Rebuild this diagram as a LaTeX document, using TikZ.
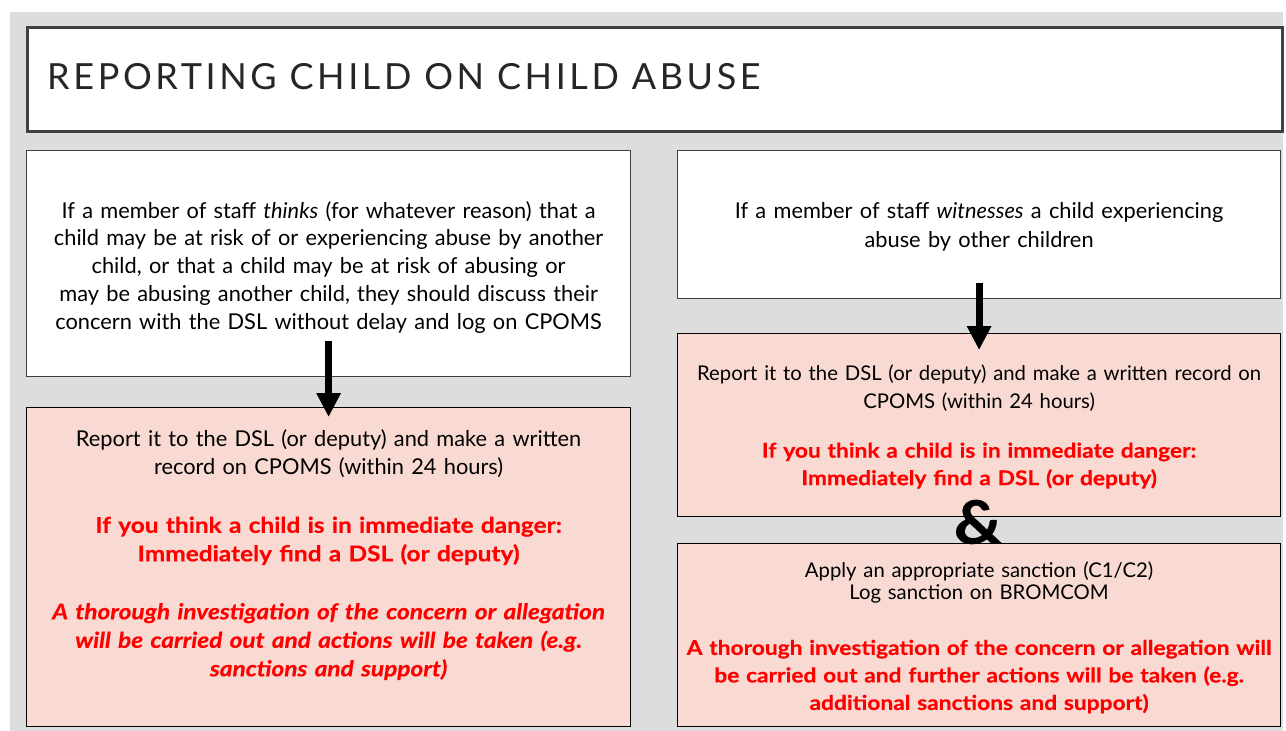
\documentclass[tikz,border=0pt]{standalone}
\usepackage{fontspec}
\setmainfont{Lato}[BoldFeatures={FakeStretch=1.12,FakeBold=0.4},BoldItalicFeatures={FakeStretch=1.12,FakeBold=0.4}]
\newfontfamily\titlefont[LetterSpace=10]{Lato}
\usetikzlibrary{arrows.meta}
\definecolor{bggray}{HTML}{DDDDDD}
\definecolor{pinkfill}{HTML}{F8DAD3}
\definecolor{boxline}{HTML}{404040}
\definecolor{alertred}{HTML}{FF0000}
\tikzset{
  panel/.style={draw=boxline, line width=1.2pt, fill=white, anchor=north west, inner sep=0pt, align=center, minimum width=#1},
  pinkpanel/.style={panel=#1, fill=pinkfill, draw=black},
  bigtext/.style={font=\fontsize{21.8}{28.5}\selectfont, text width=600pt},
  smalltext/.style={font=\fontsize{20.3}{27.5}\selectfont, text width=600pt},
  downarrow/.style={line width=7pt, -{Triangle[width=23pt,length=24pt]}},
}
\newcommand{\alert}[1]{\textcolor{alertred}{\bfseries #1}}
\newcommand{\lift}[1]{\rule{0pt}{#1}}
\begin{document}
\begin{tikzpicture}[x=1pt,y=-1pt]
\useasboundingbox (0,0) rectangle (1286,731);
\fill[white] (0,0) rectangle (1286,731);
\fill[bggray] (10,12) rectangle (1283,731);
% title
\node[panel=1255pt, minimum height=104pt, line width=2.5pt] (title) at (26,26) {};
\node[anchor=west, font=\titlefont\fontsize{36}{40}\selectfont, text=black!85, inner sep=0pt] (titletext) at (47,77) {REPORTING CHILD ON CHILD ABUSE};
% left column
\node[panel=604pt, minimum height=226pt, bigtext, font=\fontsize{21.8}{27.8}\selectfont] (l1) at (26,150) {\lift{24pt}If a member of staff \textit{thinks} (for whatever reason) that a\\ child may be at risk of or experiencing abuse by another\\ child, or that a child may be at risk of abusing or\\ may be abusing another child, they should discuss their\\ concern with the DSL without delay and log on CPOMS};
\node[pinkpanel=604pt, minimum height=319pt, bigtext] (l2) at (26,407) {\lift{15pt}Report it to the DSL (or deputy) and make a written\\ record on CPOMS (within 24 hours)\\[29.5pt]
\alert{If you think a child is in immediate danger:}\\ \alert{Immediately find a DSL (or deputy)}\\[29.5pt]
\alert{\itshape A thorough investigation of the concern or allegation}\\ \alert{\itshape will be carried out and actions will be taken (e.g.}\\ \alert{\itshape sanctions and support)}\\ \mbox{}};
% right column
\node[panel=603pt, minimum height=148pt, bigtext, font=\fontsize{21.8}{29}\selectfont] (r1) at (677,150) {\lift{20pt}If a member of staff \textit{witnesses} a child experiencing\\ abuse by other children};
\node[pinkpanel=603pt, minimum height=183pt, smalltext] (r2) at (677,333) {\lift{19pt}Report it to the DSL (or deputy) and make a written record on\\ CPOMS (within 24 hours)\\[22pt]
\alert{If you think a child is in immediate danger:}\\ \alert{Immediately find a DSL (or deputy)}};
\node[pinkpanel=603pt, minimum height=183pt, smalltext] (r3) at (677,543) {\lift{21pt}Apply an appropriate sanction (C1/C2)\\[-6pt] Log sanction on BROMCOM\\[28pt]
\alert{A thorough investigation of the concern or allegation will}\\ \alert{be carried out and further actions will be taken (e.g.}\\ \alert{additional sanctions and support)}};
\node[font=\bfseries\fontsize{60}{60}\selectfont, inner sep=0pt] (amp) at (978,522) {\&};
% arrows
\draw[downarrow] ([yshift=36pt]l1.south) -- ([yshift=-10pt]l2.north);
\draw[downarrow] ([yshift=16pt]r1.south) -- ([yshift=-17pt]r2.north);
\end{tikzpicture}
\end{document}
